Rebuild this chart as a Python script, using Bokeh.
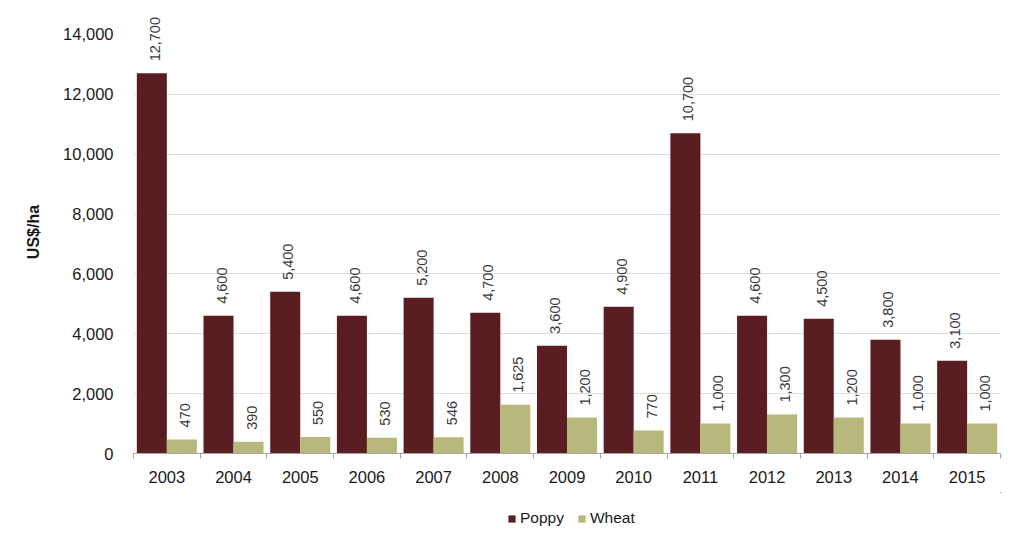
import math
from bokeh.plotting import figure
from bokeh.layouts import column
from bokeh.models import ColumnDataSource, FixedTicker, NumeralTickFormatter, Legend, LegendItem, Range1d
from bokeh.core.properties import value
from bokeh.embed import file_html
from bokeh.resources import INLINE

years = ["2003", "2004", "2005", "2006", "2007", "2008", "2009", "2010", "2011", "2012", "2013", "2014", "2015"]
poppy = [12700, 4600, 5400, 4600, 5200, 4700, 3600, 4900, 10700, 4600, 4500, 3800, 3100]
wheat = [470, 390, 550, 530, 546, 1625, 1200, 770, 1000, 1300, 1200, 1000, 1000]
y_ticks = [0, 2000, 4000, 6000, 8000, 10000, 12000, 14000]
series = ["Poppy", "Wheat"]

POPPY_C = "#5a1e22"
WHEAT_C = "#b8b87c"
FONT = "Liberation Sans"

centers = [i + 0.5 for i in range(len(years))]
src = ColumnDataSource(dict(
    xp=[c - 0.225 for c in centers],
    xw=[c + 0.225 for c in centers],
    poppy=poppy,
    wheat=wheat,
    lp=[f"{v:,}" for v in poppy],
    lw=[f"{v:,}" for v in wheat],
))

fig = figure(width=1016, height=492, output_backend="svg", toolbar_location=None,
             x_range=Range1d(0, len(years)), y_range=Range1d(0, 14800),
             min_border_left=133, min_border_right=16, min_border_top=10, min_border_bottom=39)
fig.outline_line_color = None
fig.background_fill_color = "white"

fig.vbar(x="xp", top="poppy", width=0.45, source=src, fill_color=POPPY_C, line_color=None)
fig.vbar(x="xw", top="wheat", width=0.45, source=src, fill_color=WHEAT_C, line_color=None)

for xcol, ycol, lcol in (("xp", "poppy", "lp"), ("xw", "wheat", "lw")):
    fig.text(x=xcol, y=ycol, text=lcol, source=src, angle=math.pi / 2,
             text_align="left", text_baseline="middle", x_offset=3, y_offset=-12,
             text_font=value(FONT), text_font_size="14.5px", text_color="#3a3a3a")

# x axis
fig.xaxis.ticker = FixedTicker(ticks=centers, minor_ticks=list(range(len(years) + 1)))
fig.xaxis.major_label_overrides = {c: y for c, y in zip(centers, years)}
fig.xaxis.major_tick_line_color = None
fig.xaxis.minor_tick_line_color = "#a6a6a6"
fig.xaxis.minor_tick_out = 5
fig.xaxis.minor_tick_in = 0
fig.xaxis.axis_line_color = "#a6a6a6"
fig.xaxis.major_label_text_font = FONT
fig.xaxis.major_label_text_font_size = "16.5px"
fig.xaxis.major_label_text_color = "#1a1a1a"
fig.xaxis.major_label_standoff = 11

# y axis
fig.yaxis.ticker = FixedTicker(ticks=y_ticks)
fig.yaxis.formatter = NumeralTickFormatter(format="0,0")
fig.yaxis.axis_line_color = None
fig.yaxis.major_tick_line_color = None
fig.yaxis.minor_tick_line_color = None
fig.yaxis.major_label_text_font = FONT
fig.yaxis.major_label_text_font_size = "16.5px"
fig.yaxis.major_label_text_color = "#1a1a1a"
fig.yaxis.major_label_standoff = 14
fig.yaxis.axis_label = "US$/ha"
fig.yaxis.axis_label_text_font = FONT
fig.yaxis.axis_label_text_font_size = "16px"
fig.yaxis.axis_label_text_font_style = "bold"
fig.yaxis.axis_label_text_color = "#1a1a1a"
fig.yaxis.axis_label_standoff = 18

fig.xgrid.grid_line_color = None
fig.ygrid.ticker = FixedTicker(ticks=y_ticks[1:-1])
fig.ygrid.grid_line_color = "#dedede"

# legend strip (frame aligned with the main chart by the column layout);
# its bars lie well outside its visible ranges, so only the legend shows
leg = figure(width=1016, height=41, output_backend="svg", toolbar_location=None,
             x_range=Range1d(-40, -26), y_range=Range1d(-30000, -29000),
             min_border_left=133, min_border_right=16, min_border_top=0, min_border_bottom=0)
leg.axis.visible = False
leg.grid.visible = False
leg.outline_line_color = None
lp_r = leg.vbar(x="xp", top="poppy", width=0.45, source=src, fill_color=POPPY_C, line_color=None)
lw_r = leg.vbar(x="xw", top="wheat", width=0.45, source=src, fill_color=WHEAT_C, line_color=None)
legend = Legend(items=[LegendItem(label=s, renderers=[r]) for s, r in zip(series, (lp_r, lw_r))],
                orientation="horizontal", location=(374, 6),
                label_text_font=FONT, label_text_font_size="15.5px", label_text_color="#1a1a1a",
                glyph_width=9, glyph_height=9, label_standoff=4, spacing=13,
                border_line_color=None, background_fill_alpha=0, margin=0, padding=0)
leg.add_layout(legend, "center")

p = column(fig, leg, spacing=0)
open("out.html", "w").write(file_html(p, INLINE))
